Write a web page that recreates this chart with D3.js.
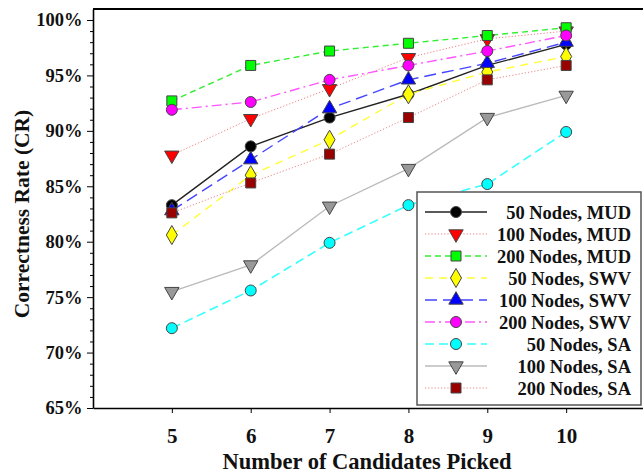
<!DOCTYPE html>
<html lang="en">
<head>
    <meta charset="UTF-8">
    <title>Correctness Rate</title>
    <script src="https://d3js.org/d3.v7.min.js"></script>
    <style>
        body { margin: 0; background: #fff; }
        svg text { font-family: 'Liberation Serif', 'Times New Roman', Times, serif !important; font-weight: 700; }
    </style>
</head>
<body>
    <svg width="643" height="474"></svg>
    <script>
        // Data
        const candidates = [5, 6, 7, 8, 9, 10];
        const yTicks = [65, 70, 75, 80, 85, 90, 95, 100];

        const mud50 = [83.3, 88.6, 91.2, 93.3, 95.9, 97.8];
        const mud100 = [87.8, 91.1, 93.8, 96.6, 98.3, 99.0];
        const mud200 = [92.7, 95.9, 97.2, 97.9, 98.6, 99.3];
        const swv50 = [80.6, 86.0, 89.2, 93.3, 95.3, 96.7];
        const swv100 = [82.8, 87.4, 92.0, 94.6, 96.1, 98.0];
        const swv200 = [91.9, 92.6, 94.6, 95.9, 97.2, 98.6];
        const sa50 = [72.2, 75.6, 79.9, 83.3, 85.2, 89.9];
        const sa100 = [75.5, 77.9, 83.2, 86.6, 91.2, 93.2];
        const sa200 = [82.6, 85.3, 87.9, 91.2, 94.6, 95.9];

        const series = [
            { name: "50 Nodes, MUD", values: mud50, stroke: "#222", dash: null, width: 1.4, shape: "circle", fill: "#000" },
            { name: "100 Nodes, MUD", values: mud100, stroke: "#f08080", dash: "1.2,2", width: 1, shape: "down", fill: "#ff0000" },
            { name: "200 Nodes, MUD", values: mud200, stroke: "#33ee33", dash: "6,4", width: 1.4, shape: "square", fill: "#00ff00" },
            { name: "50 Nodes, SWV", values: swv50, stroke: "#ffff33", dash: "8,6", width: 1.4, shape: "diamond", fill: "#ffff00" },
            { name: "100 Nodes, SWV", values: swv100, stroke: "#4444ff", dash: "12,6", width: 1.4, shape: "up", fill: "#0000ff" },
            { name: "200 Nodes, SWV", values: swv200, stroke: "#ff55ff", dash: "10,4,2,4", width: 1.4, shape: "circle", fill: "#ff00ff" },
            { name: "50 Nodes, SA", values: sa50, stroke: "#33ffff", dash: "9,5", width: 1.6, shape: "circle", fill: "#00ffff" },
            { name: "100 Nodes, SA", values: sa100, stroke: "#bbbbbb", dash: null, width: 1.4, shape: "down", fill: "#999999" },
            { name: "200 Nodes, SA", values: sa200, stroke: "#e88888", dash: "1.2,2", width: 1, shape: "square", fill: "#990000" }
        ];

        const serif = "'Liberation Serif', 'Times New Roman', serif";
        const svg = d3.select("svg").attr("font-family", serif);

        const x = d3.scaleLinear().domain([4, 11]).range([93, 645]);
        const y = d3.scaleLinear().domain([65, 101]).range([408, 8.9]);

        const plot = svg.append("g");

        // frame: top border
        svg.append("line")
            .attr("x1", 93).attr("x2", 643)
            .attr("y1", y(101)).attr("y2", y(101))
            .attr("stroke", "#000").attr("stroke-width", 2);

        // y axis
        const yAxis = svg.append("g")
            .attr("transform", `translate(${x(4)},0)`)
            .call(d3.axisLeft(y).tickValues(yTicks).tickFormat(d => d + "%").tickSize(6).tickSizeOuter(0));
        yAxis.attr("font-family", serif);
        yAxis.select(".domain").attr("stroke-width", 1.6);
        yAxis.selectAll(".tick text")
            .attr("font-size", 18.5).attr("fill", "#111").attr("dx", -1.5);
        svg.append("g")
            .attr("transform", `translate(${x(4)},0)`)
            .call(d3.axisLeft(y).tickValues(d3.range(66, 101, 1).filter(v => v % 5 !== 0)).tickFormat("").tickSize(3).tickSizeOuter(0))
            .select(".domain").remove();

        // x axis
        const xAxis = svg.append("g")
            .attr("transform", `translate(0,${y(65)})`)
            .call(d3.axisBottom(x).tickValues(candidates).tickFormat(d3.format("d")).tickSize(5).tickSizeOuter(0));
        xAxis.attr("font-family", serif);
        xAxis.select(".domain").attr("stroke-width", 1.6);
        xAxis.selectAll(".tick text")
            .attr("font-size", 21).attr("fill", "#111")
            .attr("y", 35).attr("dy", 0);

        // axis titles
        svg.append("text")
            .attr("x", 367).attr("y", 469)
            .attr("text-anchor", "middle")
            .attr("font-size", 22.5)
            .attr("fill", "#111")
            .text("Number of Candidates Picked");
        svg.append("text")
            .attr("transform", `translate(29,214) rotate(-90)`)
            .attr("text-anchor", "middle")
            .attr("font-size", 21.5)
            .attr("fill", "#111")
            .text("Correctness Rate (CR)");

        function symbolPath(shape) {
            const s = {
                circle: d3.symbol(d3.symbolCircle, 95),
                square: d3.symbol(d3.symbolSquare, 100),
                diamond: d3.symbol(d3.symbolDiamond, 105),
                up: d3.symbol(d3.symbolTriangle, 90),
                down: d3.symbol(d3.symbolTriangle, 90)
            };
            return s[shape]();
        }
        function symbolTransform(shape, px, py) {
            return shape === "down" ? `translate(${px},${py}) rotate(180)` : `translate(${px},${py})`;
        }

        const line = d3.line().x((d, i) => x(candidates[i])).y(d => y(d));

        series.forEach(s => {
            plot.append("path")
                .datum(s.values)
                .attr("d", line)
                .attr("fill", "none")
                .attr("stroke", s.stroke)
                .attr("stroke-width", s.width)
                .attr("stroke-dasharray", s.dash);
        });
        series.forEach(s => {
            plot.selectAll(null)
                .data(s.values)
                .enter().append("path")
                .attr("d", symbolPath(s.shape))
                .attr("transform", (d, i) => symbolTransform(s.shape, x(candidates[i]), y(d)))
                .attr("fill", s.fill)
                .attr("stroke", "#444")
                .attr("stroke-width", 1);
        });

        // legend
        const legend = svg.append("g");
        legend.append("rect")
            .attr("x", 417).attr("y", 192)
            .attr("width", 224).attr("height", 213)
            .attr("fill", "#fff").attr("stroke", "#555").attr("stroke-width", 1.5);
        series.forEach((s, i) => {
            const ly = 212 + i * 22;
            legend.append("line")
                .attr("x1", 425).attr("x2", 487)
                .attr("y1", ly).attr("y2", ly)
                .attr("stroke", s.stroke)
                .attr("stroke-width", s.width)
                .attr("stroke-dasharray", s.dash);
            legend.append("path")
                .attr("d", symbolPath(s.shape))
                .attr("transform", symbolTransform(s.shape, 456, ly))
                .attr("fill", s.fill)
                .attr("stroke", "#444");
            legend.append("text")
                .attr("x", 631).attr("y", ly + 6.5)
                .attr("text-anchor", "end")
                .attr("font-size", 18.5)
                .attr("fill", "#111")
                .text(s.name);
        });
    </script>
</body>
</html>
